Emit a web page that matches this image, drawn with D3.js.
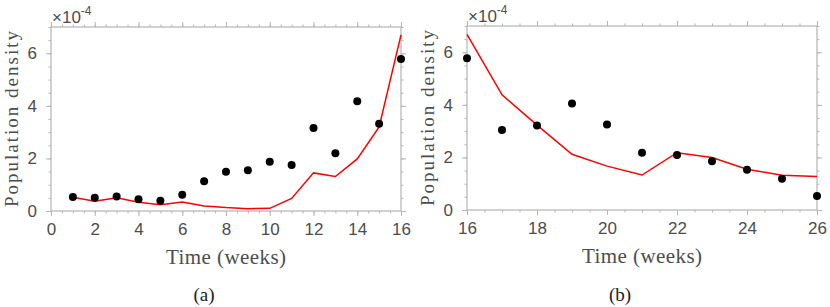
<!DOCTYPE html>
<html>
<head>
<meta charset="utf-8">
<script src="https://cdn.jsdelivr.net/npm/d3@7"></script>
<style>
body{margin:0;background:#fff;}
svg{display:block;}
.tick text{font-family:"Liberation Sans",Arial,sans-serif;font-size:17px;fill:#4d4d4d;}
.lbl{font-family:"Liberation Serif","DejaVu Serif",serif;font-size:21px;fill:#4d4d4d;}
.cap{font-family:"Liberation Serif","DejaVu Serif",serif;font-size:19px;fill:#222;}
</style>
</head>
<body>
<script>
// panel (a): weeks 1..16
var weeksA = [1,2,3,4,5,6,7,8,9,10,11,12,13,14,15,16];
var obsA = [0.53,0.50,0.55,0.45,0.39,0.62,1.13,1.49,1.55,1.87,1.75,3.16,2.20,4.18,3.32,5.78];
var fitA = [0.52,0.37,0.50,0.33,0.24,0.34,0.19,0.13,0.09,0.10,0.48,1.45,1.31,1.98,3.20,6.70];
// panel (b): weeks 16..26
var weeksB = [16,17,18,19,20,21,22,23,24,25,26];
var obsB = [5.77,3.04,3.21,4.05,3.25,2.18,2.09,1.85,1.53,1.19,0.53];
var fitB = [6.68,4.38,3.23,2.12,1.67,1.33,2.18,2.00,1.55,1.32,1.27];
var yTicks = [0,2,4,6];
var xTicksA = [0,2,4,6,8,10,12,14,16];
var xTicksB = [16,18,20,22,24,26];

var svg = d3.select('body').append('svg').attr('width',830).attr('height',307);

function panel(o){
	var g = svg.append('g');
	var x = d3.scaleLinear().domain(o.xdom).range([o.left,o.right]);
	var y = d3.scaleLinear().domain([0,7]).range([o.bottom,o.top]);
	var minorX = d3.range(o.xdom[0],o.xdom[1]+0.001,0.5);
	var minorY = d3.range(0,7.001,0.5);
	var axisCol = '#b5b5b5';
	var fmt = d3.format('d');

	// minor ticks
	function minor(axis, sc, vals, tr){
		g.append('g').attr('transform',tr)
			.call(axis(sc).tickValues(vals).tickSize(2.5).tickFormat(''))
			.call(function(s){ s.select('.domain').remove(); s.selectAll('line').attr('stroke',axisCol); });
	}
	minor(d3.axisBottom, x, minorX, 'translate(0,'+o.bottom+')');
	minor(d3.axisTop, x, minorX, 'translate(0,'+o.top+')');
	minor(d3.axisLeft, y, minorY, 'translate('+o.left+',0)');
	minor(d3.axisRight, y, minorY, 'translate('+o.right+',0)');

	// major ticks
	g.append('g').attr('transform','translate(0,'+o.bottom+')')
		.call(d3.axisBottom(x).tickValues(o.xticks).tickSize(5).tickPadding(7).tickFormat(fmt))
		.call(function(s){ s.select('.domain').remove(); s.selectAll('line').attr('stroke',axisCol); });
	g.append('g').attr('transform','translate(0,'+o.top+')')
		.call(d3.axisTop(x).tickValues(o.xticks).tickSize(5).tickFormat(''))
		.call(function(s){ s.select('.domain').remove(); s.selectAll('line').attr('stroke',axisCol); });
	g.append('g').attr('transform','translate('+o.left+',0)')
		.call(d3.axisLeft(y).tickValues(yTicks).tickSize(5).tickPadding(9).tickFormat(fmt))
		.call(function(s){ s.select('.domain').remove(); s.selectAll('line').attr('stroke',axisCol); });
	g.append('g').attr('transform','translate('+o.right+',0)')
		.call(d3.axisRight(y).tickValues(yTicks).tickSize(5).tickFormat(''))
		.call(function(s){ s.select('.domain').remove(); s.selectAll('line').attr('stroke',axisCol); });

	// box
	g.append('rect')
		.attr('x',o.left).attr('y',o.top)
		.attr('width',o.right-o.left).attr('height',o.bottom-o.top)
		.attr('fill','none').attr('stroke',axisCol).attr('stroke-width',1.2);

	// fitted line
	var line = d3.line().x(function(d,i){ return x(o.weeks[i]); }).y(function(d){ return y(d); });
	g.append('path').datum(o.fit)
		.attr('d',line).attr('fill','none').attr('stroke','#ff0000').attr('stroke-width',1.5);

	// observed points
	g.selectAll('circle.obs').data(o.obs).enter().append('circle')
		.attr('class','obs')
		.attr('cx',function(d,i){ return x(o.weeks[i]); })
		.attr('cy',function(d){ return y(d); })
		.attr('r',4).attr('fill','#000');

	// exponent
	var ex = g.append('text').attr('x',o.left+1).attr('y',o.top-4)
		.style('font-family','"Liberation Sans",Arial,sans-serif').style('font-size','17px').attr('fill','#4d4d4d');
	ex.append('tspan').text('\u00d710');
	ex.append('tspan').attr('dy',-8).style('font-size','12px').text('-4');

	// labels
	g.append('text').attr('class','lbl').attr('text-anchor','middle')
		.attr('x',(o.left+o.right)/2).attr('y',o.bottom+53)
		.attr('textLength',120).text('Time (weeks)');
	g.append('text').attr('class','lbl').attr('text-anchor','middle')
		.style('font-size','19px')
		.attr('transform','translate('+(o.left-33)+','+((o.top+o.bottom)/2)+') rotate(-90)')
		.attr('textLength',176).text('Population density');
	g.append('text').attr('class','cap').attr('text-anchor','middle')
		.attr('x',o.capx).attr('y',301).text(o.cap);
}

panel({xdom:[0,16], left:51, right:401, top:27, bottom:211, xticks:xTicksA,
	weeks:weeksA, obs:obsA, fit:fitA, capx:204, cap:'(a)'});
panel({xdom:[16,26], left:467, right:817, top:26, bottom:210, xticks:xTicksB,
	weeks:weeksB, obs:obsB, fit:fitB, capx:620, cap:'(b)'});
</script>
</body>
</html>
